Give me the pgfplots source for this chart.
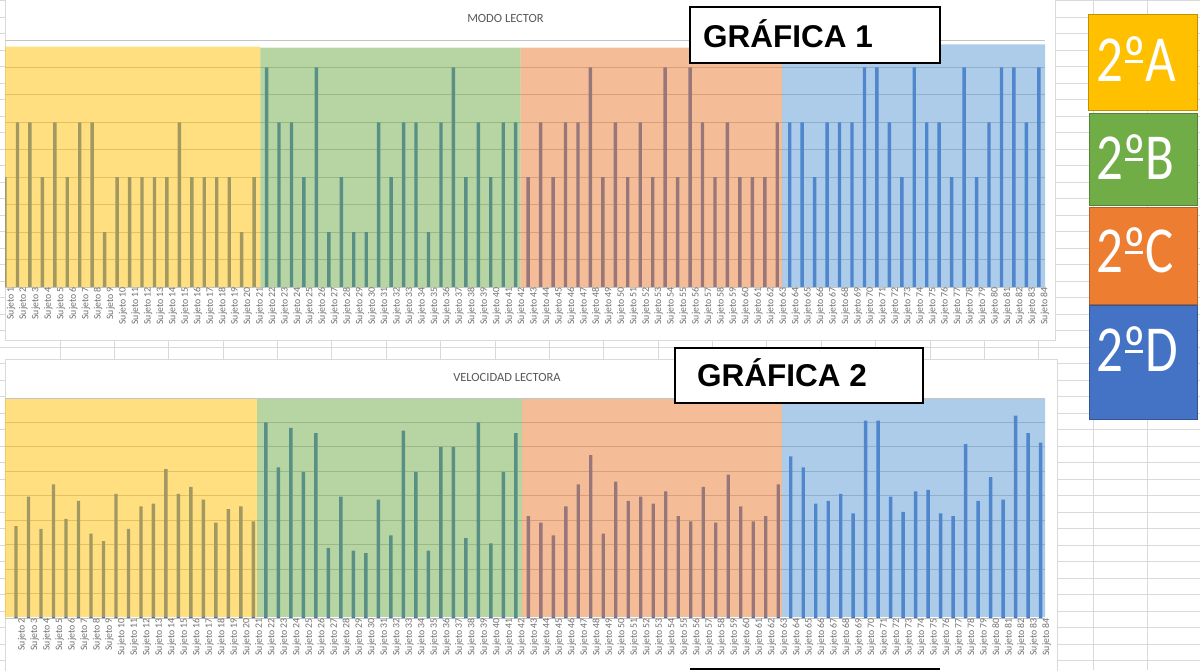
\documentclass[border=0pt]{standalone}
\usepackage{pgfplots}
\pgfplotsset{compat=1.18}
\usepackage{fontspec}
\setmainfont{Carlito}
\newfontfamily\arialfont{Liberation Sans}
\definecolor{barblue}{HTML}{4472C4}
\definecolor{oA}{HTML}{FFC000}
\definecolor{oB}{HTML}{70AD47}
\definecolor{oC}{HTML}{ED7D31}
\definecolor{oD}{HTML}{4472C4}
\definecolor{bandD}{HTML}{5B9BD5}
\definecolor{xlgrid}{HTML}{D9D9D9}
\definecolor{plotgrid}{HTML}{C4C4C4}
\definecolor{lblgray}{HTML}{707070}
\definecolor{titlegray}{HTML}{595959}

\newlength\ordw
\newcommand\ordu{\settowidth\ordw{º}\makebox[0pt][l]{\makebox[\ordw]{\rule[15.5pt]{0.8\ordw}{2.4pt}}}º}

\pgfplotsset{
  subjectaxis/.style={
    scale only axis, width=1040pt,
    axis line style={draw=none},
    major tick length=0pt, tick style={draw=none},
    yticklabel=\empty,
    ymajorgrids, grid style={plotgrid, line width=0.8pt},
    xtick={1,...,84},
    xticklabel={Sujeto \pgfmathprintnumber[assume math mode=true,int trunc]{\tick}},
    xticklabel style={rotate=90, anchor=east, inner sep=0pt, yshift=-6pt,
      font=\fontsize{9.8}{11}\selectfont, text=lblgray},
    clip=true,
  },
  bars/.style={ybar, bar width=3.4pt, fill=barblue, draw=none},
  band/.style={fill=#1, fill opacity=0.5, draw=none},
}

\pgfplotstableread{
x y
1 2
2 3
3 3
4 2
5 3
6 2
7 3
8 3
9 1
10 2
11 2
12 2
13 2
14 2
15 3
16 2
17 2
18 2
19 2
20 1
21 2
22 4
23 3
24 3
25 2
26 4
27 1
28 2
29 1
30 1
31 3
32 2
33 3
34 3
35 1
36 3
37 4
38 2
39 3
40 2
41 3
42 3
43 2
44 3
45 2
46 3
47 3
48 4
49 2
50 3
51 2
52 3
53 2
54 4
55 2
56 4
57 3
58 2
59 3
60 2
61 2
62 2
63 3
64 3
65 3
66 2
67 3
68 3
69 3
70 4
71 4
72 3
73 2
74 4
75 3
76 3
77 2
78 4
79 2
80 3
81 4
82 4
83 3
84 4
}\modolector

\pgfplotstableread{
x y
2 3.76
3 4.97
4 3.65
5 5.47
6 4.06
7 4.79
8 3.45
9 3.15
10 5.08
11 3.65
12 4.57
13 4.68
14 6.09
15 5.08
16 5.36
17 4.84
18 3.90
19 4.45
20 4.57
21 3.95
22 8.00
23 6.16
24 7.78
25 5.98
26 7.56
27 2.87
28 4.97
29 2.76
30 2.65
31 4.84
32 3.38
33 7.67
34 5.98
35 2.76
36 7.00
37 7.00
38 3.27
39 8.00
40 3.05
41 5.98
42 7.56
43 4.17
44 3.90
45 3.38
46 4.57
47 5.47
48 6.66
49 3.45
50 5.58
51 4.79
52 4.97
53 4.68
54 5.18
55 4.17
56 3.95
57 5.36
58 3.90
59 5.87
60 4.57
61 3.95
62 4.17
63 5.47
64 6.61
65 6.16
66 4.68
67 4.79
68 5.08
69 4.28
70 8.07
71 8.07
72 4.97
73 4.34
74 5.18
75 5.24
76 4.28
77 4.17
78 7.11
79 4.79
80 5.76
81 4.84
82 8.28
83 7.56
84 7.17
}\velocidad

\begin{document}
\begin{tikzpicture}[x=1pt,y=1pt]
\useasboundingbox (0,0) rectangle (1200,670);
\fill[white] (0,0) rectangle (1200,670);
% spreadsheet grid
\foreach \k in {0,...,20} {\draw[xlgrid, line width=0.8pt] ({60+54.37*\k},0) -- ({60+54.37*\k},670);}
\foreach \k in {-21,...,19} {\draw[xlgrid, line width=0.8pt] (0,{670-(347.3+16.5*\k)}) -- (1200,{670-(347.3+16.5*\k)});}
% chart frames
\filldraw[fill=white, draw=xlgrid, line width=0.8pt] (5,330) rectangle (1055,680);
\filldraw[fill=white, draw=xlgrid, line width=0.8pt] (5,-10) rectangle (1057,311);

% ---------- Chart 1 ----------
\begin{axis}[subjectaxis, at={(5pt,383pt)}, anchor=south west, height=247pt,
  xmin=1, xmax=84.5, ymin=0, ymax=4.5, ytick={0,0.5,...,4.5}]
\addplot[bars] table[x=x,y=y] {\modolector};
\addplot[band=oA] coordinates {(0.5,0) (21.5,0) (21.5,4.38) (0.5,4.38)} \closedcycle;
\addplot[band=oB] coordinates {(21.5,0) (42.4,0) (42.4,4.36) (21.5,4.36)} \closedcycle;
\addplot[band=oC] coordinates {(42.4,0) (63.4,0) (63.4,4.36) (42.4,4.36)} \closedcycle;
\addplot[band=bandD] coordinates {(63.4,0) (85,0) (85,4.42) (63.4,4.42)} \closedcycle;
\end{axis}
\node[font=\fontsize{12.5}{14}\selectfont, text=titlegray] at (505.5,652) {MODO LECTOR};

% ---------- Chart 2 ----------
\begin{axis}[subjectaxis, at={(5pt,52pt)}, anchor=south west, height=220pt,
  xmin=1.12, xmax=84.35, ymin=0, ymax=9, ytick={0,...,9}]
\addplot[bars] table[x=x,y=y] {\velocidad};
\addplot[band=oA] coordinates {(0.5,0.05) (21.3,0.05) (21.3,8.95) (0.5,8.95)} \closedcycle;
\addplot[band=oB] coordinates {(21.3,0.05) (42.5,0.05) (42.5,8.95) (21.3,8.95)} \closedcycle;
\addplot[band=oC] coordinates {(42.5,0.05) (63.3,0.05) (63.3,8.95) (42.5,8.95)} \closedcycle;
\addplot[band=bandD] coordinates {(63.3,0.05) (85,0.05) (85,8.95) (63.3,8.95)} \closedcycle;
\end{axis}
\node[font=\fontsize{12.5}{14}\selectfont, text=titlegray] at (507,293) {VELOCIDAD LECTORA};

% ---------- GRÁFICA boxes ----------
\filldraw[fill=white, draw=black, line width=1.8pt] (690,607) rectangle (940,663);
\node[anchor=base west, inner sep=0pt, font=\arialfont\bfseries\fontsize{31.5}{34}\selectfont] at (703,622) {GRÁFICA 1};
\filldraw[fill=white, draw=black, line width=1.8pt] (675,267) rectangle (923,322);
\node[anchor=base west, inner sep=0pt, font=\arialfont\bfseries\fontsize{31.5}{34}\selectfont] at (697,283) {GRÁFICA 2};
\draw[black, line width=1.8pt] (690,1) -- (940,1);

% ---------- group legend boxes ----------
\filldraw[fill=oA, draw=oA!75!black, line width=0.8pt] (1088,560) rectangle (1197,656);
\filldraw[fill=oB, draw=oB!75!black, line width=0.8pt] (1089,465) rectangle (1197,557);
\filldraw[fill=oC, draw=oC!75!black, line width=0.8pt] (1089,366) rectangle (1197,463);
\filldraw[fill=oD, draw=oD!75!black, line width=0.8pt] (1089,251) rectangle (1197,365);
\begin{scope}[every node/.style={anchor=base west, inner sep=0pt, text=white,
   font=\fontsize{53}{58}\selectfont, yscale=1.24, transform shape}]
\node at (1096,588) {2\ordu A};
\node at (1096,490) {2\ordu B};
\node at (1096,397) {2\ordu C};
\node at (1096,298) {2\ordu D};
\end{scope}
\end{tikzpicture}
\end{document}
